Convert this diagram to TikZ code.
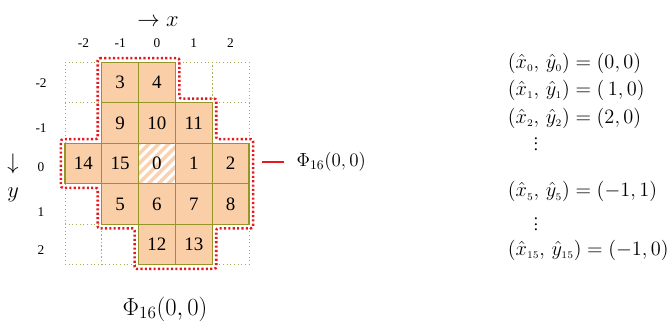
\documentclass[tikz,border=0pt]{standalone}
\usepackage{fix-cm}
\usepackage{amsmath}
\usepackage{fontspec}
\setmainfont{Liberation Serif}
\definecolor{cellfill}{RGB}{250,206,166}
\definecolor{hatchfill}{RGB}{250,210,176}
\definecolor{gridolive}{RGB}{150,150,40}
\definecolor{outlinered}{RGB}{230,25,30}

\begin{document}
\begin{tikzpicture}[
    x=0.92cm, y=-1.0125cm,
    cell/.style={rectangle, draw=gridolive, line width=0.9pt, fill=cellfill, minimum width=0.92cm, minimum height=1.0125cm, inner sep=0pt, font=\fontsize{13.5}{15}\selectfont},
    emptycell/.style={rectangle, draw=gridolive!80, line width=0.6pt, dotted, minimum width=0.92cm, minimum height=1.0125cm, inner sep=0pt},
    hatched/.style={cell, fill=white, path picture={
        \foreach \k in {-6,...,5}
            \draw[hatchfill, line width=2.5pt] ([xshift=\k*7pt]path picture bounding box.south west) -- ++(45pt,45pt);}},
    axislbl/.style={font=\fontsize{9.5}{11}\selectfont, inner sep=1pt},
    arrowlbl/.style={font=\fontsize{16}{18}\selectfont, inner sep=0pt},
    eqnlbl/.style={anchor=west, font=\fontsize{14.5}{17}\selectfont, inner sep=0pt}, % Gleichungen rechts
    redout/.style={outlinered, line width=1.8pt, dash pattern=on 1.5pt off 1.6pt, rounded corners=1.5pt}
]
\useasboundingbox (-4.266,-4.037) rectangle (13.859,4.037);

% leere Felder
\foreach \c/\r [count=\i] in {-2/-2, 1/-2, 2/-2, -2/-1, 2/-1, -2/1, -2/2, -1/2, 2/2}
    \node[emptycell] (e\i) at (\c,\r) {};

% belegte Felder
\foreach \c/\r/\n in {-1/-2/3, 0/-2/4, -1/-1/9, 0/-1/10, 1/-1/11, -2/0/14, -1/0/15, 1/0/1, 2/0/2,
                      -1/1/5, 0/1/6, 1/1/7, 2/1/8, 0/2/12, 1/2/13}
    \node[cell] (c\n) at (\c,\r) {\n};
\node[hatched] (c0) at (0,0) {0};

% rote Umrandung
\def\ox{0.11}
\def\oy{0.1}
\draw[redout] ({-1.5-\ox},{-2.5-\oy}) -- ({0.5+\ox},{-2.5-\oy}) -- ({0.5+\ox},{-1.5-\oy})
    -- ({1.5+\ox},{-1.5-\oy}) -- ({1.5+\ox},{-0.5-\oy}) -- ({2.5+\ox},{-0.5-\oy})
    -- ({2.5+\ox},{1.5+\oy}) -- ({1.5+\ox},{1.5+\oy}) -- ({1.5+\ox},{2.5+\oy})
    -- ({-0.5-\ox},{2.5+\oy}) -- ({-0.5-\ox},{1.5+\oy}) -- ({-1.5-\ox},{1.5+\oy})
    -- ({-1.5-\ox},{0.5+\oy}) -- ({-2.5-\ox},{0.5+\oy}) -- ({-2.5-\ox},{-0.5-\oy})
    -- ({-1.5-\ox},{-0.5-\oy}) -- cycle;

% Achsen
\foreach \c in {-2,...,2}
    \node[axislbl] (xl\c) at (\c,-2.975) {\c};
\foreach \r/\yy in {-2/-1.99, -1/-0.88, 0/0.09, 1/1.2, 2/2.14}
    \node[axislbl] (yl\r) at (-3.15,\yy) {\r};
\node[arrowlbl] (xaxis) at (0.03,-3.49) {$\rightarrow x$};
\node[arrowlbl] (yarrow) at (-3.91,0.01) {$\downarrow$};
\node[arrowlbl] (yaxis) at (-3.91,0.78) {$y$};

% Beschriftungen
\node[anchor=west, inner sep=1pt, font=\fontsize{13.5}{15}\selectfont] (philbl) at (3.75,-0.04) {$\Phi_{16}(0,0)$};
\coordinate (dashstart) at (2.85,-0.04);
\draw[outlinered, line width=1pt] (dashstart) -- ([xshift=-7.5pt]philbl.west);
\node[font=\fontsize{17.5}{19}\selectfont] (philblb) at (0.22,3.59) {$\Phi_{16}(0,0)$};

\node[eqnlbl] (eq0) at (9.53,-2.48) {$(\hat{x}_{\scriptscriptstyle 0},\,\hat{y}_{\scriptscriptstyle 0})=(0,0)$};
\node[eqnlbl] (eq1) at (9.53,-1.81) {$(\hat{x}_{\scriptscriptstyle 1},\,\hat{y}_{\scriptscriptstyle 1})=(\,1,0)$};
\node[eqnlbl] (eq2) at (9.53,-1.12) {$(\hat{x}_{\scriptscriptstyle 2},\,\hat{y}_{\scriptscriptstyle 2})=(2,0)$};
\node[font=\fontsize{12}{14}\selectfont, inner sep=0pt] (vd1) at (10.30,-0.58) {$\vdots$};
\node[eqnlbl] (eq5) at (9.53,0.70) {$(\hat{x}_{\scriptscriptstyle 5},\,\hat{y}_{\scriptscriptstyle 5})=(-1,1)$};
\node[font=\fontsize{12}{14}\selectfont, inner sep=0pt] (vd2) at (10.30,1.40) {$\vdots$};
\node[eqnlbl] (eq15) at (9.53,2.14) {$(\hat{x}_{\scriptscriptstyle 15},\,\hat{y}_{\scriptscriptstyle 15})=(-1,0)$};

\end{tikzpicture}
\end{document}
